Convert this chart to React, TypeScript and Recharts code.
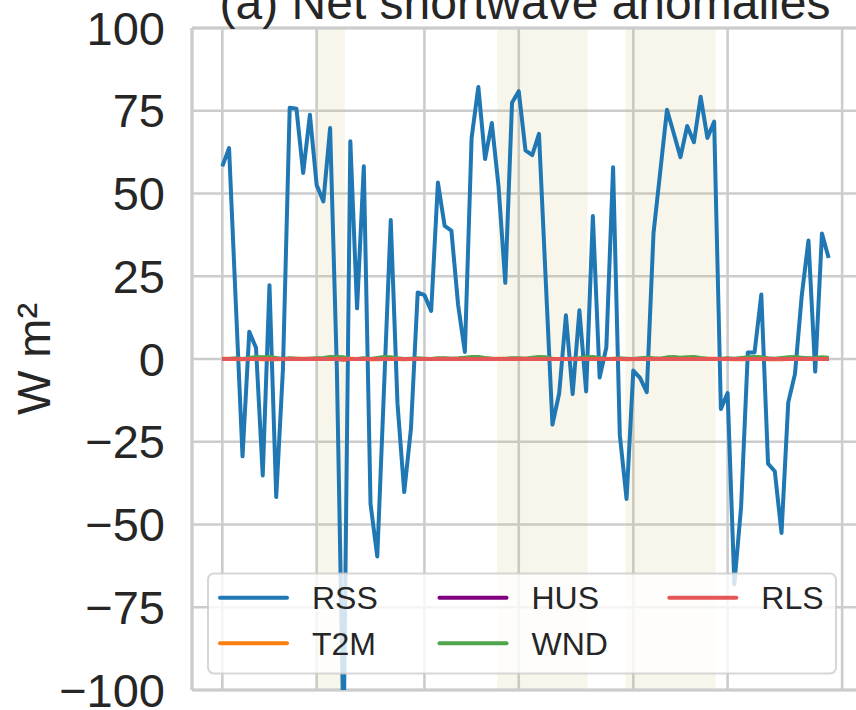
import React from "react";
import { LineChart, Line, XAxis, YAxis, CartesianGrid, ReferenceArea, ReferenceLine } from "recharts";

// RSS anomalies, one value per time step (W m^-2)
const rss = [
  58.2, 63.7, 17, -29.4, 8.2, 3.4, -35.2, 22.3, -41.7, -3,
  75.9, 75.6, 56.2, 73.8, 52.6, 47.6, 69.8, -3, -115, 65.8,
  15.3, 58.2, -43.8, -59.7, -9, 42, -13.5, -40.2, -21, 20.1,
  19.3, 14.5, 53.3, 40.2, 38.8, 16.3, 2.1, 66.8, 82.2, 60.4,
  71.3, 52.1, 23, 77.4, 80.9, 63, 61.6, 68, 24, -19.8,
  -10.4, 13.2, -10.6, 14.7, -9.8, 43.2, -5.6, 3.5, 57.9, -23,
  -42.3, -3.5, -5.7, -10, 38, 56.6, 75.3, 68.2, 61, 70.4,
  65.5, 79.2, 66.8, 71.7, -15.1, -10.3, -68, -44.7, 2.0, 2.0,
  19.5, -31.6, -33.9, -52.6, -13.1, -4.5, 19.1, 35.8, -3.8, 37.9,
  30.5,
];

const t2m = [
  0.1, 0.1, 0, -0.1, 0, 0, -0.1, 0, -0.1, 0,
  0.1, 0.1, 0.1, 0.1, 0.1, 0, 0.1, 0, -0.2, 0.1,
  0, 0.1, -0.1, -0.1, 0, 0.1, 0, -0.1, 0, 0,
  0, 0, 0.1, 0.1, 0.1, 0, 0, 0.1, 0.1, 0.1,
  0.1, 0.1, 0, 0.1, 0.1, 0.1, 0.1, 0.1, 0, 0,
  0, 0, 0, 0, 0, 0.1, 0, 0, 0.1, 0,
  -0.1, 0, 0, 0, 0.1, 0.1, 0.1, 0.1, 0.1, 0.1,
  0.1, 0.1, 0.1, 0.1, 0, 0, -0.1, -0.1, 0, 0,
  0, -0.1, -0.1, -0.1, 0, 0, 0, 0.1, 0, 0.1,
  0.1,
];

const hus = [
  0, 0, 0, 0, 0, 0, 0, 0, 0, 0,
  0, 0, 0, 0, 0, 0, 0, 0, -0.1, 0,
  0, 0, 0, 0, 0, 0, 0, 0, 0, 0,
  0, 0, 0, 0, 0, 0, 0, 0, 0, 0,
  0, 0, 0, 0, 0, 0, 0, 0, 0, 0,
  0, 0, 0, 0, 0, 0, 0, 0, 0, 0,
  0, 0, 0, 0, 0, 0, 0, 0, 0, 0,
  0, 0, 0, 0, 0, 0, 0, 0, 0, 0,
  0, 0, 0, 0, 0, 0, 0, 0, 0, 0,
  0,
];

const wnd = [
  0, 0, 0.2, 0, 0.3, 0.6, 0.5, 0.6, 0.3, 0,
  0.2, 0.1, 0, 0.1, 0.2, 0.3, 0.6, 0.6, 0.5, 0.1,
  0, 0.2, 0, 0.3, 0.6, 0.5, 0.2, 0, 0.1, 0.2,
  0.1, 0, 0.2, 0.2, 0.1, 0.2, 0.4, 0.6, 0.6, 0.3,
  0.1, 0, 0.1, 0.2, 0.2, 0.1, 0.4, 0.6, 0.5, 0.1,
  0, 0, 0.1, 0.2, 0.5, 0.6, 0.3, 0.1, 0, 0.2,
  0.1, 0, 0.2, 0.4, 0.2, 0.1, 0.5, 0.6, 0.4, 0.5,
  0.6, 0.3, 0.1, 0, 0.1, 0.2, 0.1, 0.3, 0.5, 0.6,
  0.5, 0.2, 0.1, 0.3, 0.5, 0.6, 0.4, 0.2, 0.3, 0.5,
  0.4,
];

const rls = [
  0, 0, 0, 0, 0, 0, 0, 0, 0, 0,
  0, 0, 0, 0, 0, 0, 0, 0, 0, 0,
  0, 0, 0, 0, 0, 0, 0, 0, 0, 0,
  0, 0, 0, 0, 0, 0, 0, 0, 0, 0,
  0, 0, 0, 0, 0, 0, 0, 0, 0, 0,
  0, 0, 0, 0, 0, 0, 0, 0, 0, 0,
  0, 0, 0, 0, 0, 0, 0, 0, 0, 0,
  0, 0, 0, 0, 0, 0, 0, 0, 0, 0,
  0, 0, 0, 0, 0, 0, 0, 0, 0, 0,
  0,
];

const xTicks = [0, 14, 30, 44, 61, 75, 92];
const yTicks = [-100, -75, -50, -25, 0, 25, 50, 75, 100];
const eventStarts = [14, 40.8, 59.8];
const eventEnds = [18.2, 54.2, 73.2];

const seriesNames = ["RSS", "T2M", "HUS", "WND", "RLS"];
const seriesColors = ["#1f77b4", "#ff7f0e", "#800080", "#4ea54a", "#e45756"];

const FONT = "'Liberation Sans', Arial, sans-serif";
const TEXT = "#262626";
const GRID = "#cccccc";

const data = rss.map((v, i) => ({
  t: i,
  RSS: v,
  T2M: t2m[i],
  HUS: hus[i],
  WND: wnd[i],
  RLS: rls[i],
}));

// legend laid out column-major, 3 columns x 2 rows like matplotlib ncol=3
const legendCols = [220, 439.5, 669.3];
const legendRows = [597.7, 643.3];

function Overlay() {
  return (
    <svg
      width={856}
      height={710}
      style={{ position: "absolute", left: 0, top: 0, pointerEvents: "none" }}
    >
      <text x={525} y={19} textAnchor="middle" fontFamily={FONT} fontSize={48} fill={TEXT}>
        (a) Net shortwave anomalies
      </text>
      <rect
        x={208}
        y={573.5}
        width={628}
        height={100}
        rx={6}
        fill="#ffffff"
        fillOpacity={0.8}
        stroke="#cccccc"
        strokeOpacity={0.8}
        strokeWidth={2}
      />
      {seriesNames.map((name, i) => {
        const cx = legendCols[Math.floor(i / 2)];
        const cy = legendRows[i % 2];
        return (
          <g key={name}>
            <line
              x1={cx}
              x2={cx + 67}
              y1={cy}
              y2={cy}
              stroke={seriesColors[i]}
              strokeWidth={4}
              strokeLinecap="round"
            />
            <text x={cx + 92} y={cy + 11.3} fontFamily={FONT} fontSize={32} fill={TEXT}>
              {name}
            </text>
          </g>
        );
      })}
    </svg>
  );
}

const yLabel = (props: any) => {
  const vb = props.viewBox || { x: 0, y: 28, height: 662 };
  const cy = vb.y + vb.height / 2;
  return (
    <text
      x={vb.x + 50}
      y={cy}
      transform={`rotate(-90, ${vb.x + 50}, ${cy})`}
      textAnchor="middle"
      fontFamily={FONT}
      fontSize={47}
      fill={TEXT}
    >
      W m²
    </text>
  );
};

export default function App() {
  return (
    <div style={{ position: "absolute", left: 0, top: 0, width: 856, height: 710, overflow: "hidden", background: "#fff" }}>
      <LineChart width={860} height={710} data={data} margin={{ top: 28, right: 1, bottom: 0, left: 0 }}>
        <CartesianGrid stroke={GRID} strokeWidth={2.6} horizontal vertical />
        <XAxis
          dataKey="t"
          type="number"
          domain={[-4.5, 94.5]}
          ticks={xTicks}
          interval={0}
          allowDataOverflow
          tick={() => <g />}
          tickLine={false}
          axisLine={false}
          height={20}
        />
        <YAxis
          type="number"
          domain={[-100, 100]}
          ticks={yTicks}
          interval={0}
          allowDataOverflow
          width={192}
          tickLine={false}
          axisLine={false}
          tickSize={0}
          tickMargin={27}
          tickFormatter={(v: number) => String(v).replace("-", "\u2212")}
          tick={{ fontSize: 47, fill: TEXT, fontFamily: FONT }}
          label={{ content: yLabel }}
        />
        {eventStarts.map((s, i) => (
          <ReferenceArea
            key={i}
            x1={s}
            x2={eventEnds[i]}
            y1={-100}
            y2={100}
            fill="#d0c373"
            fillOpacity={0.15}
            stroke="none"
            ifOverflow="visible"
          />
        ))}
        <ReferenceLine x={-4.5} stroke={GRID} strokeWidth={3.2} ifOverflow="visible" />
        <ReferenceLine y={100} stroke={GRID} strokeWidth={3.2} ifOverflow="visible" />
        <ReferenceLine y={-100} stroke={GRID} strokeWidth={3.2} ifOverflow="visible" />
        {seriesNames.map((name, i) => (
          <Line
            key={name}
            dataKey={name}
            stroke={seriesColors[i]}
            strokeWidth={4}
            strokeLinejoin="round"
            dot={false}
            activeDot={false}
            isAnimationActive={false}
          />
        ))}
      </LineChart>
      <Overlay />
    </div>
  );
}
